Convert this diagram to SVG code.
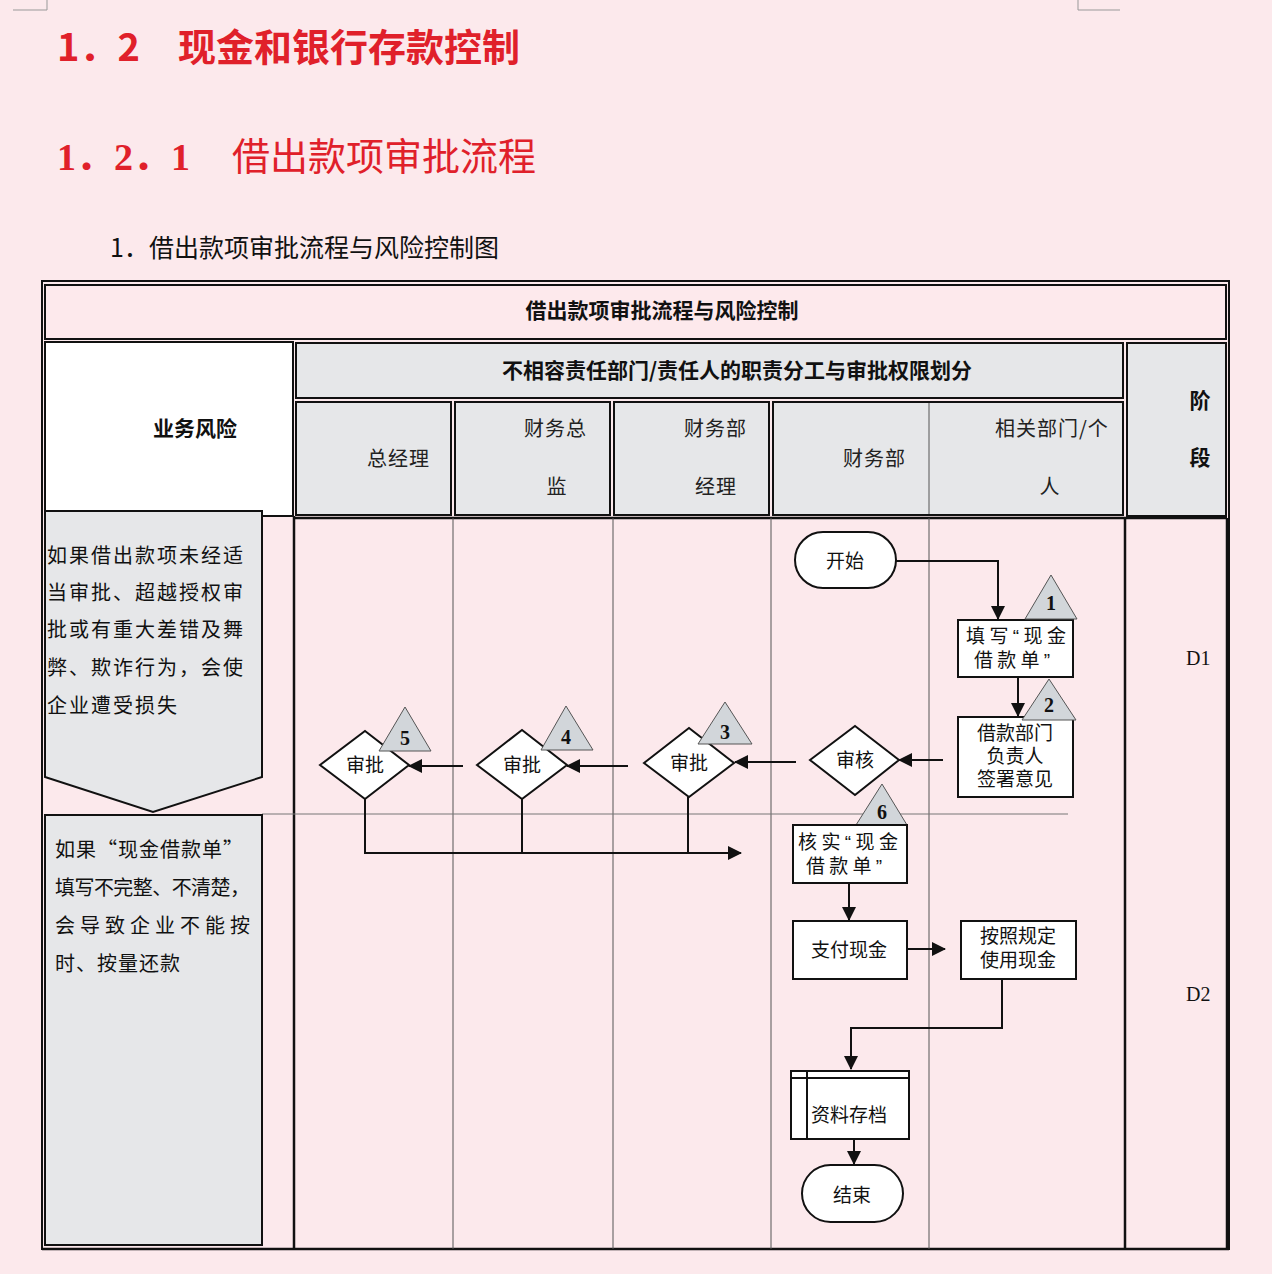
<svg xmlns="http://www.w3.org/2000/svg" width="1272" height="1274" viewBox="0 0 1272 1274">
<style>
.cjk{font-family:"Noto Sans CJK SC","Noto Sans",sans-serif}
.hd{font-family:"Noto Sans CJK SC",sans-serif;font-size:21px;font-weight:bold;fill:#111}
.sh{font-family:"Noto Sans CJK SC",sans-serif;font-size:20px;fill:#222;letter-spacing:1px}
.ft{font-family:"Liberation Sans","Noto Sans CJK SC",sans-serif;font-size:19px;fill:#111;text-anchor:middle}
.fs{font-family:"Liberation Sans","Noto Sans CJK SC",sans-serif;font-size:19px;fill:#111}
.rk{font-family:"Noto Sans CJK SC",sans-serif;font-size:20px;fill:#111}
.num{font-family:"Liberation Serif",serif;font-size:20px;font-weight:bold;fill:#111;text-anchor:middle}
.cell{stroke:#111;stroke-width:2}
.gray{fill:#e6e7e9}
.box{fill:#fff;stroke:#111;stroke-width:2}
.tri{fill:#d2d6da;stroke:#555;stroke-width:1}
.lane{stroke:#555;stroke-width:1}
.thick{stroke:#111;stroke-width:2.5}
.con{fill:none;stroke:#111;stroke-width:2}
</style>
<defs>
<marker id="ah" markerUnits="userSpaceOnUse" markerWidth="14" markerHeight="14" refX="13" refY="7" orient="auto">
<path d="M0,0 L14,7 L0,14 Z" fill="#111"/>
</marker>
</defs>
<rect x="0" y="0" width="1272" height="1274" fill="#fce9ec"/>
<g id="corner-marks" stroke="#999" stroke-width="1" fill="none">
<path d="M13,10 H47 V0"/>
<path d="M1078,0 V10 H1120"/>
</g>
<g id="titles">
<text x="57" y="61" class="cjk" font-size="38" font-weight="bold" fill="#e0202a">1．2</text>
<text x="178" y="61" class="cjk" font-size="38" font-weight="bold" fill="#e0202a">现金和银行存款控制</text>
<text x="57" y="170" font-family="Liberation Serif,'Noto Sans CJK SC',serif" font-size="38" font-weight="bold" fill="#e0202a">1．2．1</text>
<text x="232" y="170" class="cjk" font-size="38" fill="#e0202a">借出款项审批流程</text>
<text x="110" y="257" class="cjk" font-size="25" fill="#111">1．借出款项审批流程与风险控制图</text>
</g>
<g id="table">
<rect x="42" y="281" width="1187" height="968" fill="none" class="cell"/>
<rect x="45" y="285" width="1181" height="54" fill="#fde9ec" class="cell"/>
<text x="662" y="318" class="hd" text-anchor="middle">借出款项审批流程与风险控制</text>
<rect x="45" y="342" width="248" height="174" fill="#fff" class="cell"/>
<text x="153" y="436" class="hd">业务风险</text>
<rect x="296" y="343" width="827" height="55" class="cell gray"/>
<text x="737" y="378" class="hd" text-anchor="middle">不相容责任部门/责任人的职责分工与审批权限划分</text>
<rect x="1127" y="343" width="99" height="173" class="cell gray"/>
<text x="1200" y="408" class="hd" text-anchor="middle">阶</text>
<text x="1200" y="465" class="hd" text-anchor="middle">段</text>
<rect x="296" y="402" width="155" height="113" class="cell gray"/>
<text x="367" y="466" class="sh">总经理</text>
<rect x="455" y="402" width="155" height="113" class="cell gray"/>
<text x="524" y="436" class="sh">财务总</text>
<text x="557" y="494" class="sh" text-anchor="middle">监</text>
<rect x="614" y="402" width="155" height="113" class="cell gray"/>
<text x="684" y="436" class="sh">财务部</text>
<text x="716" y="494" class="sh" text-anchor="middle">经理</text>
<rect x="773" y="402" width="350" height="113" class="cell gray"/>
<line x1="929" y1="403" x2="929" y2="514" class="lane"/>
<text x="843" y="466" class="sh">财务部</text>
<text x="995" y="436" class="sh">相关部门/个</text>
<text x="1050" y="494" class="sh" text-anchor="middle">人</text>
<line x1="294" y1="518" x2="1227" y2="518" class="thick"/>
<line x1="294" y1="516" x2="294" y2="1249" class="thick"/>
<line x1="1125" y1="518" x2="1125" y2="1249" class="thick"/>
<line x1="1227" y1="518" x2="1227" y2="1249" class="thick"/>
<line x1="42" y1="1249" x2="1229" y2="1249" class="thick"/>
<line x1="453" y1="518" x2="453" y2="1249" class="lane"/>
<line x1="613" y1="518" x2="613" y2="1249" class="lane"/>
<line x1="771" y1="518" x2="771" y2="1249" class="lane"/>
<line x1="929" y1="518" x2="929" y2="1249" class="lane"/>
<line x1="262" y1="814" x2="1068" y2="814" stroke="#777" stroke-width="1"/>
<text x="1186" y="665" font-family="Liberation Serif,serif" font-size="20" fill="#111">D1</text>
<text x="1186" y="1001" font-family="Liberation Serif,serif" font-size="20" fill="#111">D2</text>
</g>
<g id="risk1">
<path d="M45,511 H262 V777 L153,812 L45,777 Z" class="cell gray"/>
<text x="47" y="563" class="rk" letter-spacing="2">如果借出款项未经适</text>
<text x="47" y="600" class="rk" letter-spacing="2">当审批、超越授权审</text>
<text x="47" y="637" class="rk" letter-spacing="2">批或有重大差错及舞</text>
<text x="47" y="675" class="rk" letter-spacing="2">弊、欺诈行为，会使</text>
<text x="47" y="713" class="rk" letter-spacing="2">企业遭受损失</text>
</g>
<g id="risk2">
<rect x="45" y="815" width="217" height="430" class="cell gray"/>
<text x="55" y="857" class="rk" textLength="188" lengthAdjust="spacing">如果“现金借款单”</text>
<text x="55" y="895" class="rk" textLength="195" lengthAdjust="spacing">填写不完整、不清楚，</text>
<text x="55" y="933" class="rk" textLength="195" lengthAdjust="spacing">会导致企业不能按</text>
<text x="55" y="971" class="rk" letter-spacing="1">时、按量还款</text>
</g>
<g id="connectors">
<path d="M896,561 H998 V619" class="con" marker-end="url(#ah)"/>
<path d="M1018,677 V716" class="con" marker-end="url(#ah)"/>
<path d="M943,760 H899" class="con" marker-end="url(#ah)"/>
<path d="M796,762 H735" class="con" marker-end="url(#ah)"/>
<path d="M628,766 H567" class="con" marker-end="url(#ah)"/>
<path d="M463,766 H409" class="con" marker-end="url(#ah)"/>
<path d="M365,799 V853 H741" class="con" marker-end="url(#ah)"/>
<path d="M522,799 V853" class="con"/>
<path d="M688,797 V853" class="con"/>
<path d="M849,883 V920" class="con" marker-end="url(#ah)"/>
<path d="M907,949 H945" class="con" marker-end="url(#ah)"/>
<path d="M1002,979 V1028 H851 V1069" class="con" marker-end="url(#ah)"/>
<path d="M854,1139 V1164" class="con" marker-end="url(#ah)"/>
</g>
<g id="start">
<rect x="795" y="532" width="101" height="56" rx="28" class="box"/>
<text x="845" y="568" class="ft">开始</text>
</g>
<g id="fill-form">
<rect x="958" y="620" width="115" height="57" class="box"/>
<text x="966" y="643" class="fs" textLength="100" lengthAdjust="spacing">填写“现金</text>
<text x="974" y="667" class="fs" textLength="76" lengthAdjust="spacing">借款单”</text>
</g>
<g id="tri1">
<polygon points="1051,575 1077,619 1025,619" class="tri"/>
<text x="1051" y="610" class="num">1</text>
</g>
<g id="dept-sign">
<rect x="958" y="717" width="115" height="80" class="box"/>
<text x="1015" y="740" class="ft">借款部门</text>
<text x="1015" y="763" class="ft">负责人</text>
<text x="1015" y="786" class="ft">签署意见</text>
</g>
<g id="tri2">
<polygon points="1049,679 1076,720 1022,720" class="tri"/>
<text x="1049" y="712" class="num">2</text>
</g>
<g id="review">
<polygon points="810,760 855,726 899,760 855,795" class="box"/>
<text x="855" y="767" class="ft">审核</text>
</g>
<g id="tri6">
<polygon points="882,784 907,825 856,825" class="tri"/>
<text x="882" y="819" class="num" font-family="Liberation Sans,sans-serif">6</text>
</g>
<g id="approve3">
<polygon points="644,763 689,728 734,763 689,797" class="box"/>
<text x="689" y="770" class="ft">审批</text>
</g>
<g id="tri3">
<polygon points="725,702 752,744 698,744" class="tri"/>
<text x="725" y="739" class="num">3</text>
</g>
<g id="approve4">
<polygon points="477,765 522,730 567,765 522,799" class="box"/>
<text x="522" y="772" class="ft">审批</text>
</g>
<g id="tri4">
<polygon points="566,706 593,750 541,750" class="tri"/>
<text x="566" y="744" class="num">4</text>
</g>
<g id="approve5">
<polygon points="320,765 365,731 409,765 365,799" class="box"/>
<text x="365" y="772" class="ft">审批</text>
</g>
<g id="tri5">
<polygon points="405,707 431,751 379,751" class="tri"/>
<text x="405" y="745" class="num">5</text>
</g>
<g id="verify">
<rect x="793" y="825" width="114" height="58" class="box"/>
<text x="798" y="849" class="fs" textLength="100" lengthAdjust="spacing">核实“现金</text>
<text x="806" y="873" class="fs" textLength="76" lengthAdjust="spacing">借款单”</text>
</g>
<g id="pay">
<rect x="793" y="921" width="114" height="58" class="box"/>
<text x="849" y="957" class="ft">支付现金</text>
</g>
<g id="use">
<rect x="961" y="921" width="115" height="58" class="box"/>
<text x="1018" y="943" class="ft">按照规定</text>
<text x="1018" y="967" class="ft">使用现金</text>
</g>
<g id="archive">
<rect x="791" y="1071" width="118" height="68" class="box"/>
<line x1="791" y1="1078" x2="909" y2="1078" stroke="#111" stroke-width="2"/>
<line x1="807" y1="1071" x2="807" y2="1139" stroke="#111" stroke-width="2"/>
<text x="849" y="1122" class="ft">资料存档</text>
</g>
<g id="end">
<rect x="802" y="1165" width="101" height="57" rx="28.5" class="box"/>
<text x="852" y="1202" class="ft">结束</text>
</g>
</svg>
